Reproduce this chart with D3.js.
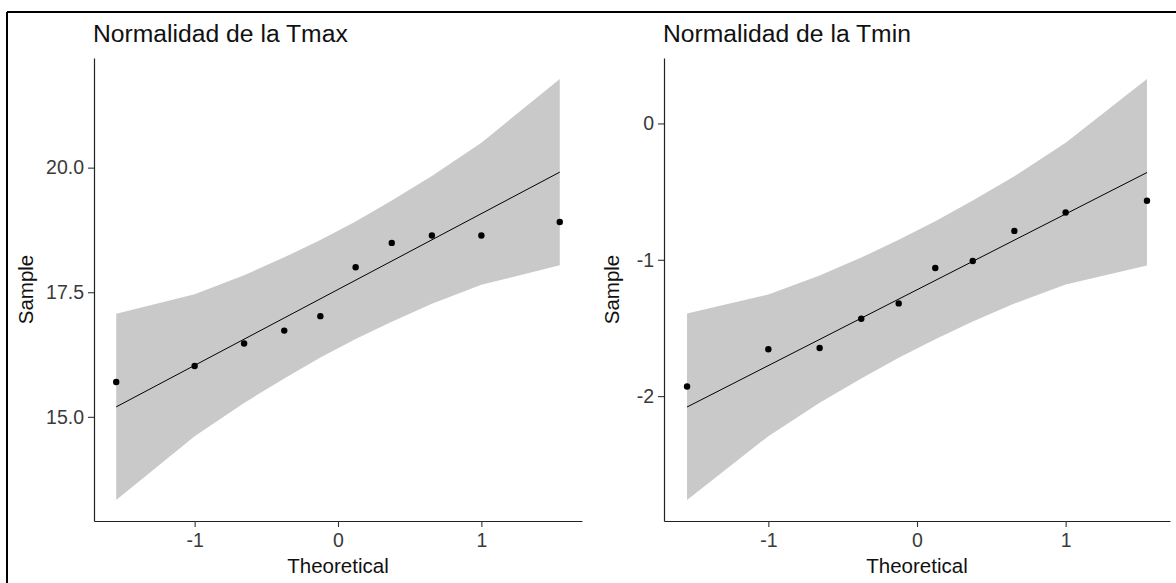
<!DOCTYPE html>
<html>
<head>
<meta charset="utf-8">
<script src="https://cdn.jsdelivr.net/npm/d3@7"></script>
<style>
  html, body { margin: 0; padding: 0; background: #fff; }
  svg { display: block; font-family: "Liberation Sans", Arial, sans-serif; }
</style>
</head>
<body>
<svg id="chart" width="1176" height="583"></svg>
<script>
// ---- data ----
const theoretical = [-1.547, -1.000, -0.655, -0.375, -0.123, 0.123, 0.375, 0.655, 1.000, 1.547];

const tmaxSample = [15.70, 16.02, 16.47, 16.73, 17.02, 18.00, 18.49, 18.64, 18.64, 18.91];
const tmaxLower  = [13.33, 14.61, 15.28, 15.77, 16.19, 16.56, 16.91, 17.27, 17.65, 18.04];
const tmaxUpper  = [17.07, 17.46, 17.84, 18.20, 18.55, 18.92, 19.34, 19.83, 20.50, 21.78];
const tmaxLine   = [15.20, 19.91];   // line at first and last theoretical quantile

const tminSample = [-1.929, -1.656, -1.647, -1.433, -1.320, -1.060, -1.009, -0.788, -0.653, -0.567];
const tminLower  = [-2.762, -2.294, -2.049, -1.870, -1.719, -1.583, -1.452, -1.321, -1.182, -1.042];
const tminUpper  = [-1.394, -1.254, -1.115, -0.984, -0.853, -0.717, -0.566, -0.387, -0.142, 0.326];
const tminLine   = [-2.08, -0.36];

const xTicks = [-1, 0, 1];
const tmaxTicks = [15, 17.5, 20];
const tminTicks = [-2, -1, 0];

const xDomain = [-1.702, 1.702];
const tmaxDomain = [12.91, 22.20];
const tminDomain = [-2.916, 0.480];

const titles = ["Normalidad de la Tmax", "Normalidad de la Tmin"];
const xTitle = "Theoretical";
const yTitle = "Sample";

// ---- drawing ----
const svg = d3.select("#chart");
const hyphen = f => (d => f(d).replace("\u2212", "-"));

// outer frame (top and left edges visible)
svg.append("line").attr("x1", 7).attr("y1", 12).attr("x2", 1176).attr("y2", 12)
  .attr("stroke", "#000").attr("stroke-width", 2);
svg.append("line").attr("x1", 7).attr("y1", 12).attr("x2", 7).attr("y2", 583)
  .attr("stroke", "#000").attr("stroke-width", 2);

const panels = [
  { x0: 94, x1: 582, sample: tmaxSample, lower: tmaxLower, upper: tmaxUpper, line: tmaxLine,
    yTicks: tmaxTicks, yDomain: tmaxDomain, fmt: hyphen(d3.format(".1f")), title: titles[0], yTitleX: 33 },
  { x0: 664, x1: 1170, sample: tminSample, lower: tminLower, upper: tminUpper, line: tminLine,
    yTicks: tminTicks, yDomain: tminDomain, fmt: hyphen(d3.format("d")), title: titles[1], yTitleX: 619 }
];

const yTop = 58, yBottom = 521;

panels.forEach(p => {
  const x = d3.scaleLinear().domain(xDomain).range([p.x0, p.x1]);
  const y = d3.scaleLinear().domain(p.yDomain).range([yBottom, yTop]);
  const g = svg.append("g");

  // confidence band
  const band = theoretical.map((t, i) => ({ t, lo: p.lower[i], hi: p.upper[i] }));
  g.append("path")
    .datum(band)
    .attr("fill", "#c9c9c9")
    .attr("d", d3.area().x(d => x(d.t)).y0(d => y(d.lo)).y1(d => y(d.hi)));

  // reference line
  const ends = [theoretical[0], theoretical[theoretical.length - 1]];
  g.append("path")
    .datum(ends.map((t, i) => [t, p.line[i]]))
    .attr("fill", "none")
    .attr("stroke", "#000")
    .attr("stroke-width", 1)
    .attr("d", d3.line().x(d => x(d[0])).y(d => y(d[1])));

  // points
  g.selectAll("circle.pt")
    .data(theoretical.map((t, i) => [t, p.sample[i]]))
    .join("circle")
    .attr("class", "pt")
    .attr("cx", d => x(d[0]))
    .attr("cy", d => y(d[1]))
    .attr("r", 3.2)
    .attr("fill", "#000");

  // axes
  const ax = g.append("g").attr("transform", `translate(0,${yBottom})`)
    .call(d3.axisBottom(x).tickValues(xTicks).tickFormat(hyphen(d3.format("d"))).tickSize(6).tickSizeOuter(0).tickPadding(6));
  const ay = g.append("g").attr("transform", `translate(${p.x0},0)`)
    .call(d3.axisLeft(y).tickValues(p.yTicks).tickFormat(p.fmt).tickSize(6).tickSizeOuter(0).tickPadding(4));

  [ax, ay].forEach(a => {
    a.select(".domain").attr("stroke", "#222").attr("stroke-width", 1.2);
    a.selectAll(".tick line").attr("stroke", "#333").attr("stroke-width", 1.1);
    a.selectAll(".tick text").attr("fill", "#3a3a3a").style("font-size", "19.5px")
      .style("font-family", "'Liberation Sans', Arial, sans-serif");
  });

  // titles
  svg.append("text")
    .attr("x", p.x0 - 1).attr("y", 42)
    .attr("fill", "#111")
    .style("font-size", "24.7px")
    .text(p.title);

  svg.append("text")
    .attr("x", (p.x0 + p.x1) / 2).attr("y", 573)
    .attr("text-anchor", "middle")
    .attr("fill", "#111")
    .style("font-size", "20.5px")
    .text(xTitle);

  svg.append("text")
    .attr("transform", `translate(${p.yTitleX},${(yTop + yBottom) / 2}) rotate(-90)`)
    .attr("text-anchor", "middle")
    .attr("fill", "#111")
    .style("font-size", "20.5px")
    .text(yTitle);
});
</script>
</body>
</html>
